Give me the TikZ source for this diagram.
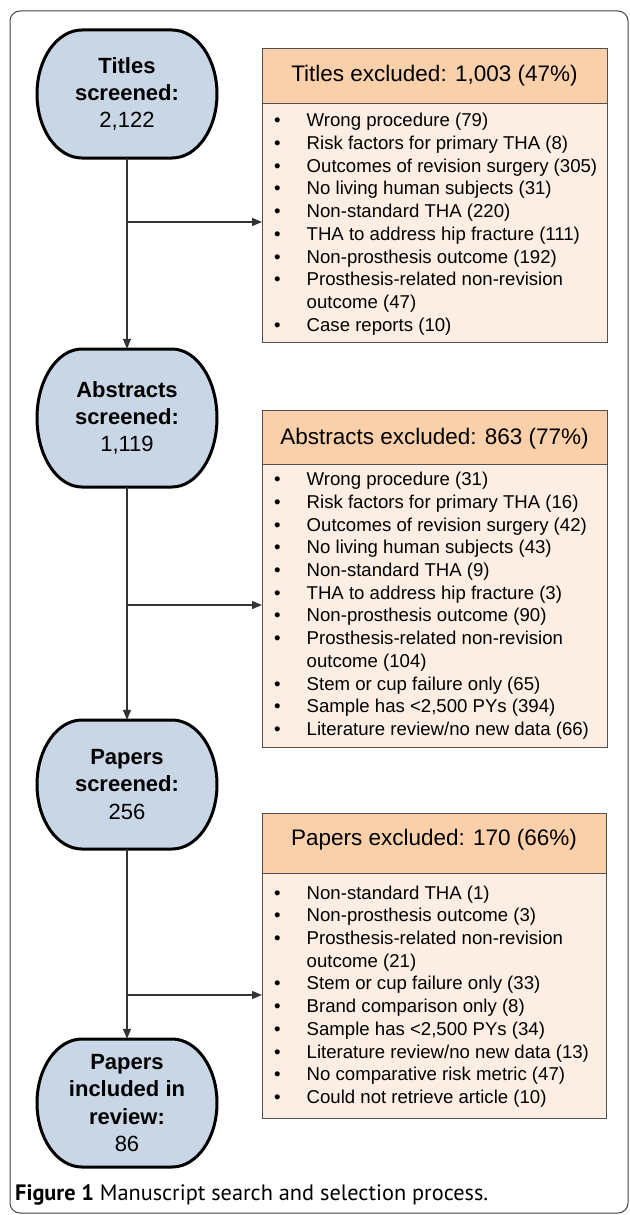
\documentclass[tikz,border=0pt]{standalone}
\usepackage{fontspec}
\setmainfont{Liberation Sans}
\newfontfamily\capfont{PT Sans}
\usetikzlibrary{arrows.meta,calc}
\definecolor{pillblue}{HTML}{C8D6E5}
\definecolor{hdrc}{HTML}{FAD0AB}
\definecolor{bodyc}{HTML}{FDEEE3}
\definecolor{edgec}{HTML}{505050}
\definecolor{connc}{HTML}{333333}
\definecolor{framec}{HTML}{444444}
\newcommand\bi{\makebox[32.5pt][l]{\textbullet}}
\newcommand\ind{\hspace*{32.5pt}}
\newcommand\pill[4]{%
  \filldraw[pillshape] (82,{-#2+#3/2}) -- (172,{-#2+#3/2})
    arc[start angle=90,end angle=-90,x radius=45pt,y radius={#3pt/2}]
    -- (82,{-#2-#3/2})
    arc[start angle=270,end angle=90,x radius=45pt,y radius={#3pt/2}] -- cycle;
  \node[pilltext,minimum width=182pt,minimum height=#3pt] (#1) at (127,-#2) {#4};}
\begin{document}
\begin{tikzpicture}[x=1pt,y=1pt,
  pillshape/.style={fill=pillblue,draw=black,line width=3pt},
  pilltext/.style={align=center,font=\fontsize{22}{27.3}\selectfont,inner sep=0pt},
  hdrbox/.style={draw=edgec,fill=hdrc,line width=1.2pt,anchor=north west,inner sep=0pt},
  bodybox/.style={draw=edgec,fill=bodyc,line width=1.2pt,anchor=north west,inner sep=0pt},
  hdrtext/.style={anchor=base,font=\fontsize{22.5}{27}\selectfont,inner sep=0pt},
  listtext/.style={anchor=north west,align=left,inner sep=0pt,font=\fontsize{18.6}{22.7}\selectfont},
  conn/.style={draw=connc,line width=1.2pt,-{Triangle[length=10pt,width=8pt]}},
]
\useasboundingbox (0,0) rectangle (629,-1215);
\draw[framec,line width=1pt,rounded corners=10pt] (10,-11) rectangle (628,-1213);

% pills
\pill{t}{94}{128}{\textbf{Titles}\\\textbf{screened:}\\2,122}
\pill{a}{418}{138}{\textbf{Abstracts}\\\textbf{screened:}\\1,119}
\pill{p}{784.5}{129}{\textbf{Papers}\\\textbf{screened:}\\256}
\pill{i}{1103}{128}{\textbf{Papers}\\\textbf{included in}\\\textbf{review:}\\86}

% Titles excluded box
\node[hdrbox,minimum width=345pt,minimum height=55pt] (th) at (262,-48) {};
\node[bodybox,minimum width=345pt,minimum height=239pt] (tb) at (262,-103) {};
\node[hdrtext] (tht) at (434.5,-81.7) {Titles excluded: 1,003 (47\%)};
\node[listtext] (tl) at (274,-110.8) {\strut\bi Wrong procedure (79)\\
\bi Risk factors for primary THA (8)\\
\bi Outcomes of revision surgery (305)\\
\bi No living human subjects (31)\\
\bi Non-standard THA (220)\\
\bi THA to address hip fracture (111)\\
\bi Non-prosthesis outcome (192)\\
\bi Prosthesis-related non-revision\\
\ind outcome (47)\\
\bi Case reports (10)};

% Abstracts excluded box
\node[hdrbox,minimum width=345pt,minimum height=54pt] (ah) at (262,-410) {};
\node[bodybox,minimum width=345pt,minimum height=283pt] (ab) at (262,-464) {};
\node[hdrtext] (aht) at (434.5,-444) {Abstracts excluded: 863 (77\%)};
\node[listtext] (al) at (274,-469.7) {\strut\bi Wrong procedure (31)\\
\bi Risk factors for primary THA (16)\\
\bi Outcomes of revision surgery (42)\\
\bi No living human subjects (43)\\
\bi Non-standard THA (9)\\
\bi THA to address hip fracture (3)\\
\bi Non-prosthesis outcome (90)\\
\bi Prosthesis-related non-revision\\
\ind outcome (104)\\
\bi Stem or cup failure only (65)\\
\bi Sample has <2,500 PYs (394)\\
\bi Literature review/no new data (66)};

% Papers excluded box
\node[hdrbox,minimum width=344pt,minimum height=60pt] (ph) at (262,-813) {};
\node[bodybox,minimum width=344pt,minimum height=245pt] (pb) at (262,-873) {};
\node[hdrtext] (pht) at (434,-845) {Papers excluded: 170 (66\%)};
\node[listtext] (pl) at (274,-883) {\strut\bi Non-standard THA (1)\\
\bi Non-prosthesis outcome (3)\\
\bi Prosthesis-related non-revision\\
\ind outcome (21)\\
\bi Stem or cup failure only (33)\\
\bi Brand comparison only (8)\\
\bi Sample has <2,500 PYs (34)\\
\bi Literature review/no new data (13)\\
\bi No comparative risk metric (47)\\
\bi Could not retrieve article (10)};

% connectors
\coordinate (b1) at (127,-222);
\coordinate (b2) at (127,-605);
\coordinate (b3) at (127,-995);
\draw[conn] (t.south) -- (a.north);
\draw[conn] (a.south) -- (p.north);
\draw[conn] (p.south) -- (i.north);
\draw[conn] (b1) -- (b1 -| tb.west);
\draw[conn] (b2) -- (b2 -| ab.west);
\draw[conn] (b3) -- (b3 -| pb.west);

% caption
\node[anchor=base west,inner sep=0pt,font=\capfont\fontsize{22.3}{26}\selectfont] (cap) at (15,-1200.7)
  {\textbf{Figure 1} Manuscript search and selection process.};
\end{tikzpicture}
\end{document}
